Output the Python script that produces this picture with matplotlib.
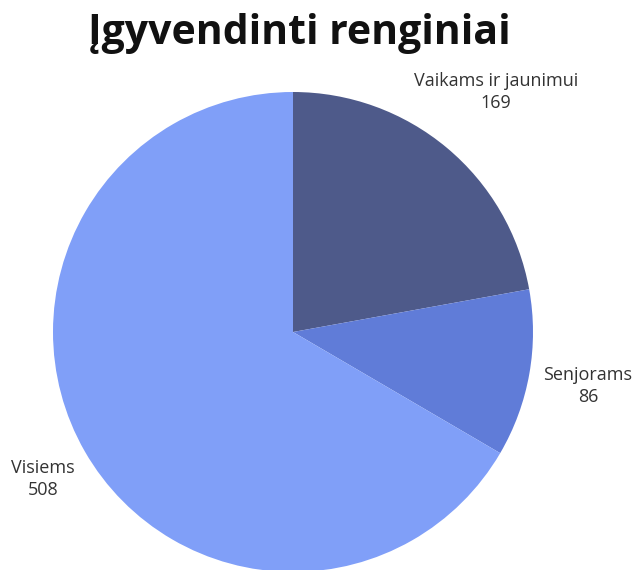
import matplotlib
matplotlib.use("Agg")
import matplotlib.pyplot as plt

title = "Įgyvendinti renginiai"
categories = ["Vaikams ir jaunimui", "Senjorams", "Visiems"]
values = [169, 86, 508]
colors = ["#4e5a8a", "#607cd8", "#809ff8"]

W, H = 636, 570
fig = plt.figure(figsize=(W / 100, H / 100), dpi=100)
ax = fig.add_axes([0, 0, 1, 1])

cx, cy, r = 293, H - 332, 240
wedges, _ = ax.pie(values, colors=colors, startangle=90, counterclock=False,
                   center=(cx, cy), radius=r, wedgeprops=dict(linewidth=0))
ax.set_xlim(0, W)
ax.set_ylim(0, H)
ax.axis("off")

# label block centres in pixel coordinates (x, y from top)
label_pos = [(496, 92), (588, 386), (43, 479)]
for (lx, ly), cat, v in zip(label_pos, categories, values):
    ax.text(lx, H - ly, f"{cat}\n{v}", ha="center", va="center", fontsize=13,
            family="Open Sans", color="#333333", linespacing=1.35)

fig.text(299 / W, 1 - 34 / H, title, ha="center", va="center", fontsize=29.5,
         fontweight="bold", family="Open Sans", color="#111111")

fig.savefig("out.png", dpi=100)
